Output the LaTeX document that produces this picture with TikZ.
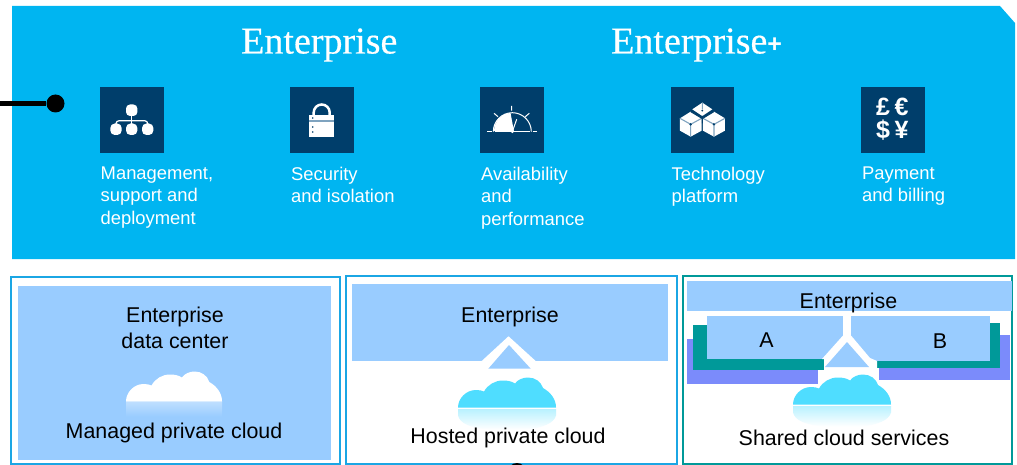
\documentclass[tikz,border=0pt]{standalone}
\usepackage{fontspec}
\setmainfont{Liberation Sans}
\newfontfamily\headfont[FakeBold=0.4]{Liberation Serif}
\definecolor{topblue}{HTML}{00B5F1}
\definecolor{icondark}{HTML}{003E6B}
\definecolor{paleblue}{HTML}{99CCFF}
\definecolor{borderblue}{HTML}{1BA6E4}
\definecolor{tealc}{HTML}{009999}
\definecolor{violetc}{HTML}{7B8BFB}
\definecolor{cloudcyan}{HTML}{4FDDFF}
\definecolor{stripec}{HTML}{7FA3BF}
\newcommand{\cloudshape}{(0,0) .. controls (0,-9) and (8,-17.5) .. (18,-17.5) .. controls (21,-17.5) and (24,-17) .. (26,-16) .. controls (30,-23) and (37,-27) .. (45,-27) .. controls (50,-27) and (54,-26) .. (57,-24) .. controls (60,-28) and (65,-30) .. (70,-30) .. controls (77,-30) and (83,-26) .. (85,-19.5) .. controls (93,-15) and (98,-8) .. (98,0) -- cycle}
\newcommand{\reflshape}{(0,1.5) -- (98,1.5) -- (98,8) .. controls (96,16) and (84,20) .. (70,22) -- (30,22) .. controls (12,20) and (2,16) .. (0,8) -- cycle}
\tikzset{
  x=1pt,y=-1pt,
  icon box/.style={fill=icondark,draw=none},
  white ink/.style={fill=white,draw=none},
  toplabel/.style={anchor=north west,inner sep=0pt,text=white,align=left,font=\fontsize{18.4}{22.6}\selectfont},
  heading/.style={anchor=base west,inner sep=0pt,text=white,font=\headfont\fontsize{38}{38}\selectfont},
  paneltext/.style={anchor=base,inner sep=0pt,text=black,font=\fontsize{21.4}{26}\selectfont},
  currency/.style={inner sep=0pt,text=white,font=\bfseries\fontsize{25}{25}\selectfont},
  panelborder/.style={draw=#1,line width=1.6pt,fill=white},
  pale/.style={fill=paleblue,draw=none},
}
\begin{document}
\begin{tikzpicture}
\useasboundingbox (0,0) rectangle (1017,465);
\begin{scope}
\clip (0,0) rectangle (1017,465);
% top banner
\fill[topblue] (12,6) -- (1000,6) -- (1015,23) -- (1015,259) -- (12,259) -- cycle;
\coordinate (linestart) at (0,103.5);
\node[circle,fill=black,minimum size=18pt,inner sep=0pt] (dot) at (55.5,103.5) {};
\draw[line width=5.5pt] (linestart) -- (dot);
\node[heading] (h1) at (241,53.5) {Enterprise};
\node[heading] (h2) at (611,53.5) {Enterprise{\fontspec{Liberation Sans Bold}\fontsize{25}{25}\selectfont\raisebox{1pt}{+}}};
% icon boxes
\fill[icon box] (100,87) rectangle (164,153);
\fill[icon box] (290,87) rectangle (354,153);
\fill[icon box] (480,87) rectangle (544,153);
\fill[icon box] (671,87) rectangle (734,153);
\fill[icon box] (861,87) rectangle (925,153);
% org chart icon
\draw[white,line width=1.2pt,rounded corners=3pt] (116,129) -- (116,120.7) -- (147.7,120.7) -- (147.7,129);
\draw[white,line width=1.2pt] (131.7,110) -- (131.7,129);
\fill[white ink,rounded corners=4pt] (126,104.5) rectangle (137.4,116);
\fill[white ink,rounded corners=4.5pt] (110.3,123.5) rectangle (121.7,135);
\fill[white ink,rounded corners=4.5pt] (126,123.5) rectangle (137.4,135);
\fill[white ink,rounded corners=4.5pt] (142,123.5) rectangle (153.4,135);
% lock icon
\draw[white,line width=2.5pt] (313.7,116) -- (313.7,112.5) arc[start angle=180,end angle=0,x radius=8,y radius=-8] -- (329.7,116);
\fill[white ink] (309.3,115) rectangle (334.3,136.7);
\fill[stripec] (309.3,120.5) rectangle (334.3,122.5);
\fill[icondark] (312.7,118) circle (0.9);
\fill[icondark] (312.7,127) circle (0.9);
\fill[icondark] (312.7,132) circle (0.9);
% gauge icon
\draw[white,line width=1pt] (487,131.7) -- (491.5,131.7) (495,131.7) -- (530,131.7) (532.5,131.7) -- (536.7,131.7);
\draw[white,line width=1pt] (493.3,131.7) arc[start angle=180,end angle=0,x radius=19,y radius=-19];
\fill[white ink] (494,131.2) -- (494.5,126) -- (498,119) -- (504,114.5) -- (510.5,112.8) -- (514,131.7) -- cycle;
\draw[white,line width=1pt] (512.3,131.7) -- (516.7,119.3);
\fill[white] (512.3,131.7) circle (1.5);
\draw[white,line width=1pt] (511.7,106) -- (511.7,110.7) (494,113.3) -- (498,116.7) (529.3,113.3) -- (525.3,116.7);
% cubes icon
\begin{scope}[shift={(470,80)},x=0.3333pt,y=-0.3333pt]
\fill[white ink] (697,68) -- (727,88) -- (697,108) -- (667,88) -- cycle;
\fill[white ink] (662,95) -- (695,115) -- (695,152) -- (662,170) -- (630,152) -- (630,115) -- cycle;
\fill[white ink] (732,95) -- (765,115) -- (765,152) -- (732,170) -- (699,152) -- (699,115) -- cycle;
\draw[stripec,line width=1.1pt] (630,115) -- (662,133) -- (695,115) (662,133) -- (662,170) (699,115) -- (732,133) -- (765,115) (732,133) -- (732,170) (697,68) -- (697,88);
\draw[icondark,line width=0.9pt] (662,95) -- (697,116) -- (732,95) (697,108) -- (697,130);
\fill[icondark] (662,133) circle (4) (732,133) circle (4) (697,92) circle (3);
\end{scope}
% currency icon
\node[currency] (pound) at (883,106.5) {£};
\node[currency] (euro) at (901.5,106.5) {€};
\node[currency] (dollar) at (883,130) {\$};
\node[currency] (yen) at (901.5,130) {¥};
% top labels
\node[toplabel] (l1) at (100.5,166.5) {Management,\\support and\\deployment};
\node[toplabel] (l2) at (291,166.5) {Security\\and isolation};
\node[toplabel] (l3) at (481,166.5) {Availability\\and\\performance};
\node[toplabel] (l4) at (671.5,166.5) {Technology\\platform};
\node[toplabel] (l5) at (862,166.5) {Payment\\and billing};
% panel 1
\draw[panelborder=borderblue] (11,277) rectangle (340,464);
\fill[pale] (18,286) rectangle (331,460);
\begin{scope}[shift={(126,401.5)}]
\shade[top color=paleblue!65!white,bottom color=paleblue] (0,1) -- (96,1) -- (96,15) -- (0,15) -- cycle;
\fill[white,xscale=0.98] \cloudshape;
\end{scope}
\node[paneltext] (p1a) at (175,322) {Enterprise};
\node[paneltext] (p1b) at (175,348) {data center};
\node[paneltext] (p1c) at (174,438) {Managed private cloud};
% panel 2
\draw[panelborder=borderblue] (346,276) rectangle (677,464);
\fill[pale] (352,284) rectangle (668,361);
\fill[white] (508.5,336.3) -- (481.7,361) -- (488.3,369) -- (530.7,369) -- (535.7,361) -- cycle;
\fill[pale] (509,345) -- (488.3,368.7) -- (530.7,368.7) -- cycle;
\begin{scope}[shift={(458,407.5)}]
\shade[top color=cloudcyan!40!white,bottom color=white] \reflshape;
\fill[cloudcyan] \cloudshape;
\end{scope}
\node[paneltext] (p2a) at (510,322) {Enterprise};
\node[paneltext] (p2b) at (508,443) {Hosted private cloud};
% panel 3
\draw[panelborder=tealc] (683,276) rectangle (1012,464);
\fill[pale] (687,281) rectangle (1012,311);
\fill[violetc] (687,339) rectangle (818,384);
\fill[violetc] (879,335) rectangle (1010,380);
\fill[tealc] (693,325) rectangle (824,370);
\fill[tealc] (877,323) rectangle (1000,368);
\fill[pale] (707,316) rectangle (843,359);
\fill[pale] (851,316) rectangle (990,361);
\fill[white] (843,311) rectangle (851,340);
\fill[white] (843,335.5) -- (822,359) -- (824,359) -- (824,370) -- (877,370) -- (877,361) -- (870,358) -- (851,335.5) -- cycle;
\fill[pale] (847,342) -- (825,367) -- (869,367) -- cycle;
\begin{scope}[shift={(793,404.5)}]
\shade[top color=cloudcyan!40!white,bottom color=white] \reflshape;
\fill[cloudcyan] \cloudshape;
\end{scope}
\node[paneltext] (p3a) at (848.5,308) {Enterprise};
\node[paneltext] (p3A) at (766.5,347) {A};
\node[paneltext] (p3B) at (940,348.5) {B};
\node[paneltext] (p3c) at (844,445) {Shared cloud services};
% dot cut by the lower edge
\fill[black] (517,472) circle (9);
\end{scope}
\end{tikzpicture}
\end{document}
